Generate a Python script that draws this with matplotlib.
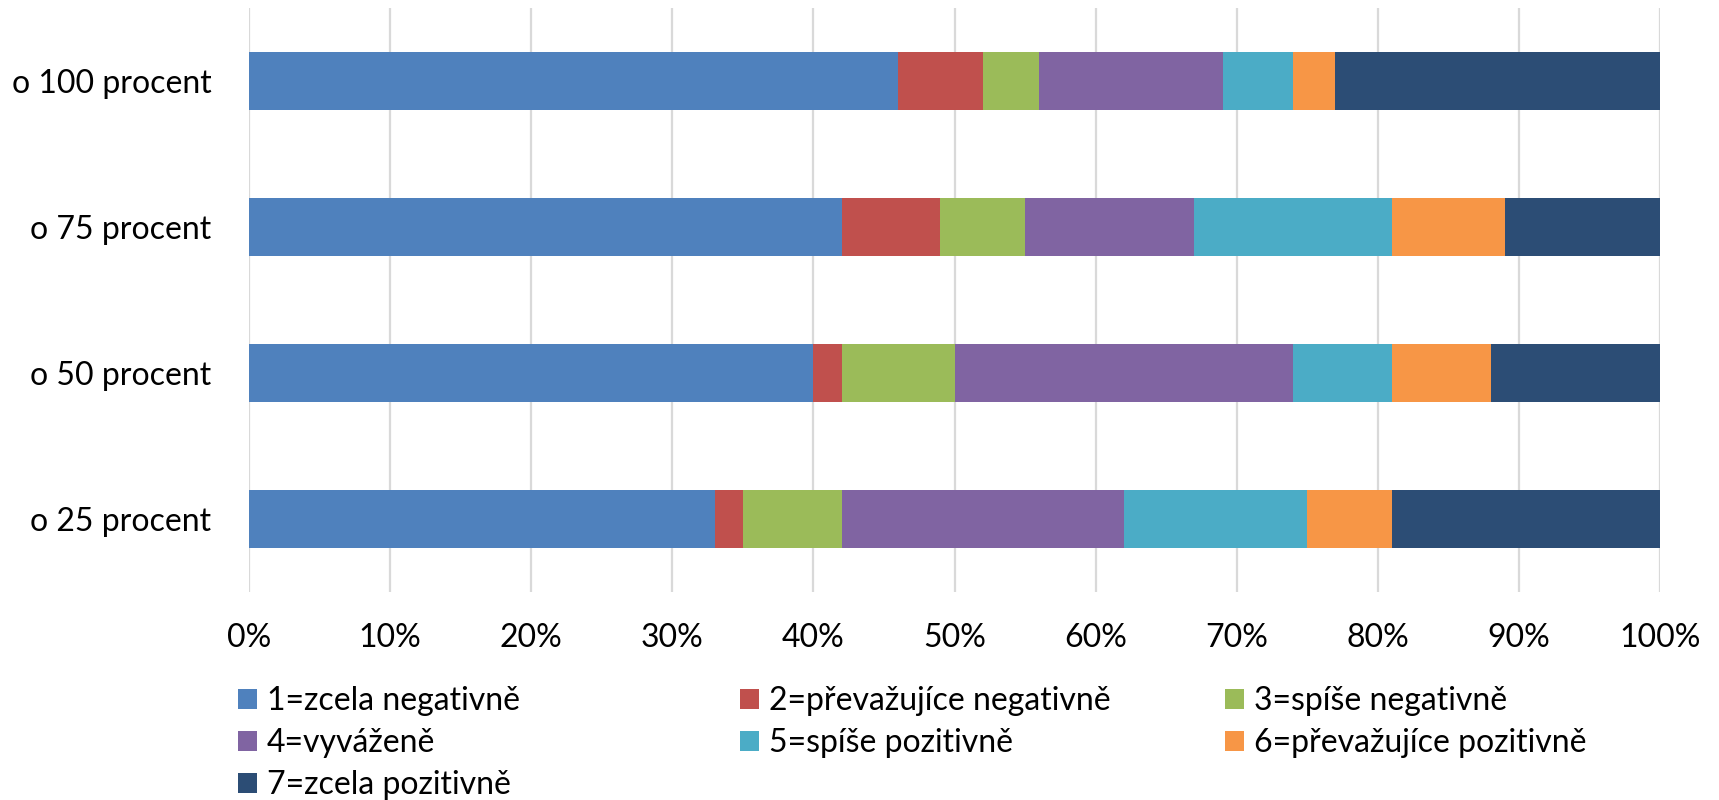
import numpy as np
import matplotlib.pyplot as plt

plt.rcParams['font.family'] = ['Lato', 'DejaVu Sans']

# categories from bottom to top
categories = ['o 25 procent', 'o 50 procent', 'o 75 procent', 'o 100 procent']
series_names = ['1=zcela negativně', '2=převažujíce negativně', '3=spíše negativně',
                '4=vyváženě', '5=spíše pozitivně', '6=převažujíce pozitivně',
                '7=zcela pozitivně']
s1 = [33, 40, 42, 46]
s2 = [2, 2, 7, 6]
s3 = [7, 8, 6, 4]
s4 = [20, 24, 12, 13]
s5 = [13, 7, 14, 5]
s6 = [6, 7, 8, 3]
s7 = [19, 12, 11, 23]
colors = ['#4F81BD', '#C0504D', '#9BBB59', '#8064A2', '#4BACC6', '#F79646', '#2C4D75']

series = [s1, s2, s3, s4, s5, s6, s7]
fs = 23

fig = plt.figure(figsize=(17.19, 8), dpi=100)
ax = fig.add_axes([249/1719, 1 - 592/800, (1660 - 249)/1719, (592 - 8)/800])

y = np.arange(len(categories))
left = np.zeros(len(categories))
bars = []
for vals, name, c in zip(series, series_names, colors):
    vals = np.array(vals, dtype=float)
    b = ax.barh(y, vals, left=left, height=0.4, color=c, label=name, zorder=3)
    bars.append(b)
    left += vals

ax.set_xlim(0, 100)
ax.set_ylim(-0.5, 3.5)
ax.set_xticks(np.arange(0, 101, 10))
ax.set_xticklabels([f'{t}%' for t in range(0, 101, 10)], fontsize=fs)
ax.set_yticks(y)
ax.set_yticklabels(categories, fontsize=fs)
ax.tick_params(axis='x', length=0, pad=22)
ax.tick_params(axis='y', length=0, pad=27)
ax.grid(axis='x', color='#D9D9D9', linewidth=1.6, zorder=0)
for s in ax.spines.values():
    s.set_visible(False)

# legend in three columns with fixed positions (row-wise order)
col_x = [238, 740, 1225]
for i, cx in enumerate(col_x):
    idx = list(range(i, 7, 3))
    leg = fig.legend([bars[k] for k in idx], [series_names[k] for k in idx],
                     loc='upper left', bbox_to_anchor=(cx/1719, 1 - 686/800),
                     frameon=False, fontsize=fs, handlelength=0.6, handleheight=0.6,
                     handletextpad=0.3, labelspacing=0.38, borderaxespad=0, borderpad=0)

fig.savefig('out.png', dpi=100)
